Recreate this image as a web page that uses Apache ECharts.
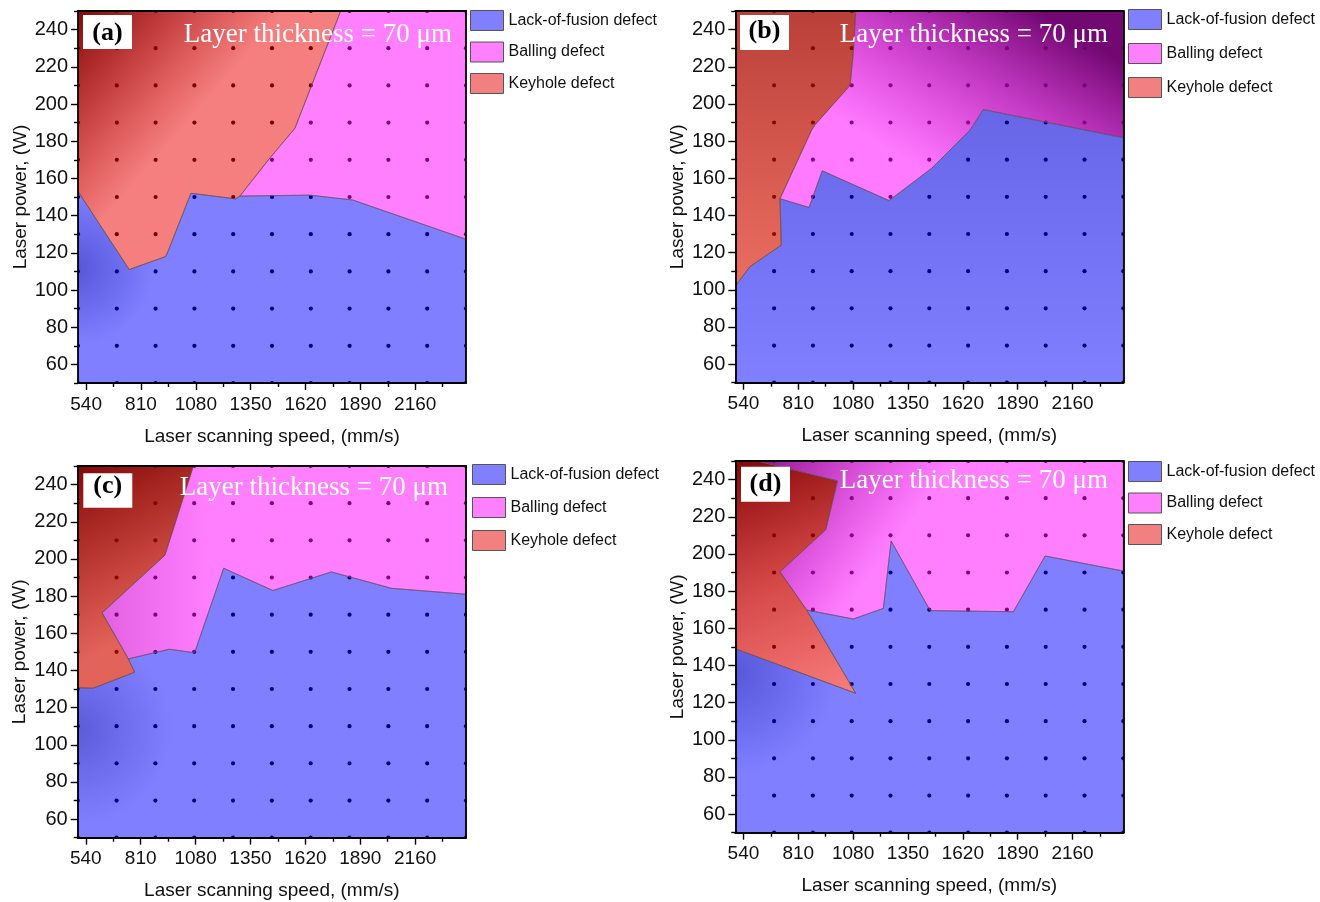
<!DOCTYPE html>
<html><head><meta charset="utf-8">
<script src="https://cdn.jsdelivr.net/npm/echarts@6/dist/echarts.min.js"></script>
<style>html,body{margin:0;padding:0;background:#fff}#chart{width:1320px;height:902px}</style>
</head><body><div id="chart"></div>
<script>
// ---------- data ----------
const speedLabels = [540, 810, 1080, 1350, 1620, 1890, 2160];
const speedMinor = [675, 945, 1215, 1485, 1755, 2025, 2295];
const powerLabels = [60, 80, 100, 120, 140, 160, 180, 200, 220, 240];
const powerMinor = [50, 70, 90, 110, 130, 150, 170, 190, 210, 230, 250];
const speedRange = [500, 2410];
const powerRange = [50, 250];
const sampleSpeeds = [500, 691, 882, 1073, 1264, 1455, 1646, 1837, 2028, 2219, 2410];
const samplePowers = [50, 70, 90, 110, 130, 150, 170, 190, 210, 230, 250];
const panelNames = ['(a)', '(b)', '(c)', '(d)'];
const annotation = 'Layer thickness = 70 μm';
const regionNames = ['Lack-of-fusion defect', 'Balling defect', 'Keyhole defect'];
const xTitle = 'Laser scanning speed, (mm/s)';
const yTitle = 'Laser power, (W)';

// region outlines: [speed (mm/s), power (W)]
const lofA = [[500,50],[500,153],[752,111],[932,118],[944,121],[1056,152],[1276,149],[1297,150.5],[1642,151],[1852,148.4],[2410,127.3],[2410,50]];
const ballA = [[1297,150.5],[1642,151],[1852,148.4],[2410,127.3],[2410,250],[1793,250],[1650,210],[1568,187],[1445,171]];
const keyA = [[500,250],[500,153],[752,111],[932,118],[944,121],[1056,152],[1276,149],[1297,150.5],[1445,171],[1568,187],[1650,210],[1793,250]];

const lofB = [[500,50],[500,102],[572,112.4],[726,124],[720,149],[863,144.3],[928,164],[1257,148],[1467,165.4],[1590,178.8],[1656,186],[1721,197],[2410,181.8],[2410,50]];
const ballB = [[720,149],[863,144.3],[928,164],[1257,148],[1467,165.4],[1590,178.8],[1656,186],[1721,197],[2410,181.8],[2410,250],[1093,250],[1081,228],[1065,210],[892,188.7],[876,186]];
const keyB = [[500,250],[500,102],[572,112.4],[726,124],[720,149],[876,186],[892,188.7],[1065,210],[1081,228],[1093,250]];

const lofC = [[500,50],[500,130.7],[575,130.4],[780,139],[749,146.2],[951,151.4],[1075,149.5],[1218,195],[1460,183],[1748,193],[2043,184.2],[2410,181],[2410,50]];
const ballC = [[749,146.2],[951,151.4],[1075,149.5],[1218,195],[1460,183],[1748,193],[2043,184.2],[2410,181],[2410,250],[1069,250],[929,202],[620,171]];
const keyC = [[500,250],[500,130.7],[575,130.4],[780,139],[749,146.2],[620,171],[929,202],[1069,250]];

const lofD = [[500,50],[500,149],[1093,125],[851.5,169.8],[1081,165],[1229,170.7],[1267,207],[1459,169.5],[1869,168.9],[2025,198.9],[2410,190.8],[2410,50]];
const ballD = [[605,250],[2410,250],[2410,190.8],[2025,198.9],[1869,168.9],[1459,169.5],[1267,207],[1229,170.7],[1081,165],[851.5,169.8],[720,190.4],[945,213],[1003,239.3]];
const keyD = [[500,250],[605,250],[1003,239.3],[945,213],[720,190.4],[851.5,169.8],[1093,125],[500,149]];

const regions = [
  [lofA, ballA, keyA],
  [lofB, ballB, keyB],
  [lofC, ballC, keyC],
  [lofD, ballD, keyD]
];

// ---------- styles / layout ----------
const legendColors = ['#8080ff', '#ff80ff', '#f28080'];
const lin = (x, y, x2, y2, stops) => ({type:'linear', x, y, x2, y2, colorStops: stops.map(s => ({offset:s[0], color:s[1]}))});
const rad = (x, y, r, stops) => ({type:'radial', x, y, r, colorStops: stops.map(s => ({offset:s[0], color:s[1]}))});
const fills = [
  [ rad(0, 0.4, 0.4, [[0,'rgba(0,0,195,0.66)'],[1,'rgba(0,0,255,0.5)']]),
    'rgba(255,0,255,0.5)',
    lin(0, 0, 0.45, 0.4, [[0,'rgba(125,0,0,0.97)'],[1,'rgba(235,0,0,0.5)']]) ],
  [ lin(0.5, 0, 0.5, 1, [[0,'rgba(0,0,215,0.6)'],[1,'rgba(0,0,255,0.5)']]),
    lin(0.75, 0, 0.45, 0.85, [[0,'rgba(110,0,110,0.97)'],[0.5,'rgba(185,0,185,0.75)'],[1,'rgba(255,0,255,0.52)']]),
    lin(0, 0, 0, 1, [[0,'rgba(165,10,0,0.78)'],[1,'rgba(220,20,0,0.62)']]) ],
  [ rad(0, 0.6, 0.35, [[0,'rgba(0,0,195,0.64)'],[1,'rgba(0,0,255,0.5)']]),
    lin(0, 0.5, 0.3, 0.5, [[0,'rgba(205,0,205,0.62)'],[1,'rgba(255,0,255,0.5)']]),
    lin(0, 0, 0.7, 0.7, [[0,'rgba(125,0,0,0.97)'],[1,'rgba(210,15,0,0.65)']]) ],
  [ rad(0, 0.45, 0.35, [[0,'rgba(0,0,195,0.66)'],[1,'rgba(0,0,255,0.5)']]),
    lin(0, 0, 0.35, 0.6, [[0,'rgba(130,0,130,0.92)'],[1,'rgba(255,0,255,0.5)']]),
    lin(0, 0, 0.8, 1, [[0,'rgba(125,0,0,0.97)'],[0.5,'rgba(195,0,0,0.72)'],[1,'rgba(235,0,0,0.52)']]) ]
];
const layout = [
  {grid:{left:78, top:11, width:388, height:372}, legend:{left:470, top:10, gap:10.5}, box:[83,15,49,34], label:[107.5,33], note:[452,34.7]},
  {grid:{left:735.3, top:11, width:388, height:371.7}, legend:{left:1128, top:9, gap:13}, box:[740,15,49,35], label:[764.5,31.5], note:[1108,34.5]},
  {grid:{left:77.7, top:466, width:388.3, height:371.7}, legend:{left:472, top:464, gap:12}, box:[83.3,473.3,49,34.4], label:[107.8,486], note:[448,488]},
  {grid:{left:735.3, top:461, width:388, height:371.7}, legend:{left:1128, top:461, gap:10.5}, box:[741,466.7,49,35], label:[765.5,484], note:[1108,481]}
];
const FONT = 'Liberation Sans';
const SERIF = 'Liberation Serif';
const lineStyle = {color:'#000', width:1.8};
const tickStyle = {color:'#000', width:1.4};
const plain = v => String(v);

const dots = [];
sampleSpeeds.forEach(s => samplePowers.forEach(pw => dots.push([s, pw])));

const grids = [], xAxes = [], yAxes = [], series = [], legends = [], graphics = [];
layout.forEach((L, p) => {
  grids.push(Object.assign({containLabel:false}, L.grid));
  const base = {gridIndex:p, type:'value', splitLine:{show:false}, z:6};
  xAxes.push(
    Object.assign({}, base, {position:'bottom', min:speedRange[0], max:speedRange[1],
      name:xTitle, nameLocation:'middle', nameGap:44,
      nameTextStyle:{fontFamily:FONT, fontSize:19, color:'#111'},
      axisLine:{show:true, onZero:false, lineStyle},
      axisTick:{show:true, inside:false, length:7, customValues:speedLabels, lineStyle:tickStyle},
      axisLabel:{show:true, customValues:speedLabels, formatter:plain, margin:12, fontFamily:FONT, fontSize:19, color:'#111'}}),
    Object.assign({}, base, {position:'bottom', min:speedRange[0], max:speedRange[1],
      axisLine:{show:false}, axisTick:{show:true, length:4, customValues:speedMinor, lineStyle:tickStyle},
      axisLabel:{show:false}}),
    Object.assign({}, base, {position:'top', min:speedRange[0], max:speedRange[1],
      axisLine:{show:true, onZero:false, lineStyle}, axisTick:{show:false}, axisLabel:{show:false}})
  );
  yAxes.push(
    Object.assign({}, base, {position:'left', min:powerRange[0], max:powerRange[1],
      name:yTitle, nameLocation:'middle', nameGap:48, nameRotate:90,
      nameTextStyle:{fontFamily:FONT, fontSize:19, color:'#111'},
      axisLine:{show:true, onZero:false, lineStyle},
      axisTick:{show:true, inside:false, length:7, customValues:powerLabels, lineStyle:tickStyle},
      axisLabel:{show:true, customValues:powerLabels, formatter:plain, margin:10, fontFamily:FONT, fontSize:20, color:'#111'}}),
    Object.assign({}, base, {position:'left', min:powerRange[0], max:powerRange[1],
      axisLine:{show:false}, axisTick:{show:true, length:4, customValues:powerMinor, lineStyle:tickStyle},
      axisLabel:{show:false}}),
    Object.assign({}, base, {position:'right', min:powerRange[0], max:powerRange[1],
      axisLine:{show:true, onZero:false, lineStyle}, axisTick:{show:false}, axisLabel:{show:false}})
  );
  // sample points (clipped to the plot frame)
  series.push({type:'custom', name:'samples', xAxisIndex:3*p, yAxisIndex:3*p, data:dots, z:1, silent:true, clip:true,
    renderItem:(params, api) => {
      const c = api.coord([api.value(0), api.value(1)]);
      return {type:'circle', shape:{cx:c[0], cy:c[1], r:2.1}, style:{fill:'#000'}};
    }});
  regions[p].forEach((verts, r) => {
    const fill = fills[p][r];
    series.push({
      type:'custom', name:regionNames[r], xAxisIndex:3*p, yAxisIndex:3*p, z:3, clip:true, silent:true,
      itemStyle:{color:legendColors[r]},
      data:[verts[0]],
      renderItem:(params, api) => ({
        type:'polygon',
        shape:{points: verts.map(v => api.coord(v))},
        style:{fill, stroke:'rgba(85,85,85,0.75)', lineWidth:0.8}
      })
    });
  });
  legends.push({
    orient:'vertical', left:L.legend.left, top:L.legend.top, itemGap:L.legend.gap, padding:0,
    itemWidth:33, itemHeight:20, icon:'rect', selectedMode:false,
    textStyle:{fontFamily:FONT, fontSize:16, color:'#111'},
    data: regionNames.map((n, i) => ({name:n, itemStyle:{color:legendColors[i], borderColor:'#555', borderWidth:1}}))
  });
  graphics.push(
    {type:'rect', z:50, shape:{x:L.box[0], y:L.box[1], width:L.box[2], height:L.box[3]}, style:{fill:'#fff'}},
    {type:'text', z:51, x:L.label[0], y:L.label[1], style:{text:panelNames[p], fontFamily:SERIF, fontWeight:'bold', fontSize:26, fill:'#000', align:'center', verticalAlign:'middle'}},
    {type:'text', z:51, x:L.note[0], y:L.note[1], style:{text:annotation, fontFamily:SERIF, fontSize:27, fill:'#fff', align:'right', verticalAlign:'middle'}}
  );
});

const chart = echarts.init(document.getElementById('chart'), null, {renderer:'canvas'});
chart.setOption({
  backgroundColor:'#fff',
  animation:false,
  grid:grids, xAxis:xAxes, yAxis:yAxes, legend:legends, series, graphic:graphics
});
</script></body></html>
